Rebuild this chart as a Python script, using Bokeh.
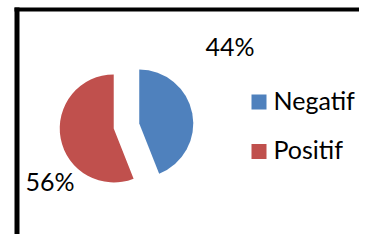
import numpy as np
from bokeh.plotting import figure
from bokeh.models import Range1d, ColumnDataSource
from bokeh.core.properties import value
from bokeh.embed import file_html
from bokeh.resources import INLINE

categories = ["Negatif", "Positif"]
values = [44, 56]
labels = ["44%", "56%"]
colors = ["#4F81BD", "#C0504D"]

W, H = 359, 234
p = figure(width=W, height=H, output_backend="svg", toolbar_location=None,
           x_range=Range1d(0, W), y_range=Range1d(0, H),
           min_border=0, min_border_left=0, min_border_right=0,
           min_border_top=0, min_border_bottom=0)
p.axis.visible = False
p.grid.visible = False
p.outline_line_color = None
p.background_fill_color = "white"
p.border_fill_color = "white"

def Y(py):
    return H - py

# L-shaped frame (left and top borders)
p.quad(left=[14, 14], right=[19, W], bottom=[Y(H), Y(11)], top=[Y(7), Y(7)],
       fill_color="black", line_color=None)

# Pie (Excel style: starts at top, clockwise, exploded)
cx, cy, r, explode = 126.0, Y(125.5), 54.0, 13.0
frac = np.array(values, dtype=float) / sum(values)
cum = np.concatenate([[0], np.cumsum(frac)])
start_cw = np.pi / 2 - cum[:-1] * 2 * np.pi
end_cw = np.pi / 2 - cum[1:] * 2 * np.pi
mid = (start_cw + end_cw) / 2
src = ColumnDataSource(dict(
    x=cx + explode * np.cos(mid),
    y=cy + explode * np.sin(mid),
    start=end_cw, end=start_cw, color=colors, cat=categories))
p.wedge(x="x", y="y", radius=r, start_angle="start", end_angle="end",
        direction="anticlock", fill_color="color", line_color=None, source=src)

# Percent labels (vertically centred on the digits)
p.text(x=[229.5, 49.5], y=[Y(45), Y(180)], text=labels,
       text_font=value("Lato"), text_font_size="25px", text_color="black",
       text_align="center", text_baseline="middle")

# Legend
leg_y = [Y(101.5), Y(151)]
p.rect(x=[258.5, 258.5], y=leg_y, width=15, height=15,
       fill_color=colors, line_color=None)
p.text(x=[273, 273], y=[Y(99), Y(148)], text=categories,
       text_font=value("Lato"), text_font_size="25px", text_color="black",
       text_align="left", text_baseline="middle")

open("out.html", "w").write(file_html(p, INLINE))
